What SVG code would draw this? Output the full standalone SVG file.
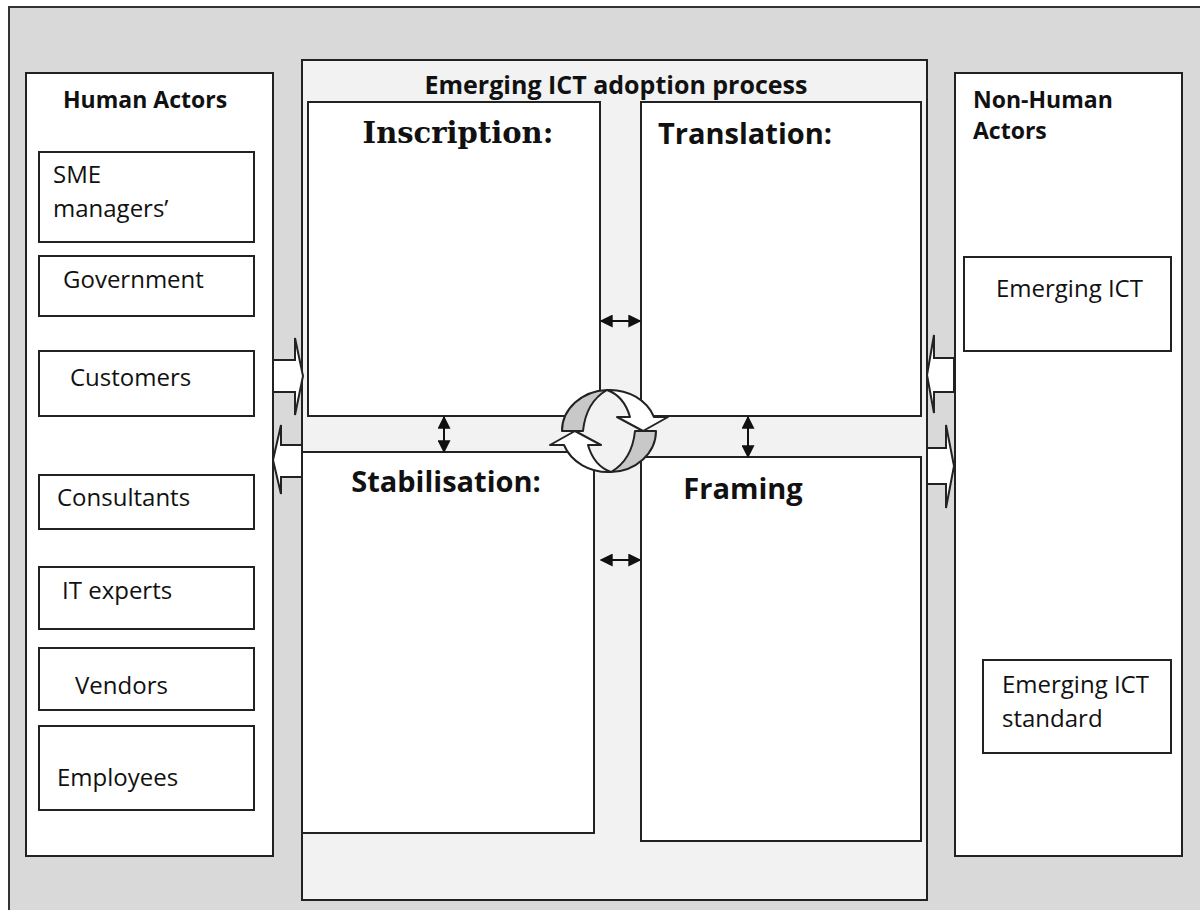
<svg xmlns="http://www.w3.org/2000/svg" width="1200" height="910" viewBox="0 0 1200 910">
<defs>
<style>
.box{fill:#fff;stroke:#222;stroke-width:2}
.panel{fill:#f2f2f2;stroke:#222;stroke-width:2}
.blk{fill:#fff;stroke:#222;stroke-width:2;stroke-linejoin:miter}
.lbl{font-family:"Open Sans","Liberation Sans",sans-serif;font-size:24px;fill:#111}
.hd{font-family:"Open Sans","Liberation Sans",sans-serif;font-size:23px;font-weight:bold;fill:#111}
.ttl{font-family:"Open Sans","Liberation Sans",sans-serif;font-size:25px;font-weight:bold;fill:#111}
.st{font-family:"Open Sans","Liberation Sans",sans-serif;font-size:29px;font-weight:bold;fill:#111}
.sr{font-family:"DejaVu Serif","Liberation Serif",serif;font-size:29px;font-weight:bold;fill:#111}
.dbl{stroke:#111;stroke-width:2;fill:none;marker-start:url(#ah);marker-end:url(#ah)}
.gray{fill:#c8c8c8;stroke:#222;stroke-width:2;stroke-linejoin:round}
.wht{fill:#fff;stroke:#222;stroke-width:2;stroke-linejoin:round}
</style>
<marker id="ah" viewBox="0 0 10 10" refX="9" refY="5" markerWidth="13" markerHeight="13" markerUnits="userSpaceOnUse" orient="auto-start-reverse">
<path d="M0,0 L10,5 L0,10 Z" fill="#111"/>
</marker>
</defs>
<rect x="9" y="7" width="1200" height="910" fill="#d9d9d9" stroke="#333" stroke-width="2"/>

<g id="human-actors">
<rect class="box" x="26" y="73" width="247" height="783"/>
<text class="hd" x="63" y="108">Human Actors</text>
</g>
<g id="sme-managers">
<rect class="box" x="39" y="152" width="215" height="90"/>
<text class="lbl" x="53" y="183">SME</text>
<text class="lbl" x="53" y="217">managers’</text>
</g>
<g id="government">
<rect class="box" x="39" y="256" width="215" height="60"/>
<text class="lbl" x="63" y="288">Government</text>
</g>
<g id="customers">
<rect class="box" x="39" y="351" width="215" height="65"/>
<text class="lbl" x="70" y="386">Customers</text>
</g>
<g id="consultants">
<rect class="box" x="39" y="475" width="215" height="54"/>
<text class="lbl" x="57" y="506">Consultants</text>
</g>
<g id="it-experts">
<rect class="box" x="39" y="567" width="215" height="62"/>
<text class="lbl" x="62" y="599">IT experts</text>
</g>
<g id="vendors">
<rect class="box" x="39" y="648" width="215" height="62"/>
<text class="lbl" x="75" y="694">Vendors</text>
</g>
<g id="employees">
<rect class="box" x="39" y="726" width="215" height="84"/>
<text class="lbl" x="57" y="786">Employees</text>
</g>

<g id="adoption-process">
<rect class="panel" x="302" y="60" width="625" height="840"/>
<text class="ttl" x="616" y="94" text-anchor="middle">Emerging ICT adoption process</text>
</g>
<g id="inscription">
<rect class="box" x="308" y="102" width="292" height="314"/>
<text class="sr" x="458" y="143" text-anchor="middle">Inscription:</text>
</g>
<g id="translation">
<rect class="box" x="641" y="102" width="280" height="314"/>
<text class="st" x="745" y="144" text-anchor="middle">Translation:</text>
</g>
<g id="stabilisation">
<rect class="box" x="302" y="452" width="292" height="381"/>
<text class="st" x="446" y="492" text-anchor="middle">Stabilisation:</text>
</g>
<g id="framing">
<rect class="box" x="641" y="457" width="280" height="384"/>
<text class="st" x="743" y="499" text-anchor="middle">Framing</text>
</g>

<g id="non-human-actors">
<rect class="box" x="955" y="73" width="227" height="783"/>
<text class="hd" x="973" y="108">Non-Human</text>
<text class="hd" x="973" y="139">Actors</text>
</g>
<g id="emerging-ict">
<rect class="box" x="964" y="257" width="207" height="94"/>
<text class="lbl" x="996" y="297">Emerging ICT</text>
</g>
<g id="emerging-ict-standard">
<rect class="box" x="983" y="660" width="188" height="93"/>
<text class="lbl" x="1002" y="693">Emerging ICT</text>
<text class="lbl" x="1002" y="727">standard</text>
</g>

<g id="connectors">
<polygon class="blk" points="273,360 295,360 295,338 303,376 295,415 295,392 273,392"/>
<polygon class="blk" points="302,445 281,445 281,425 273,460 281,494 281,477 302,477"/>
<polygon class="blk" points="954,358 934,358 934,335 927,375 934,413 934,392 954,392"/>
<polygon class="blk" points="927,448 946,448 946,425 954,466 946,508 946,484 927,484"/>
<line class="dbl" x1="601" y1="321" x2="640" y2="321"/>
<line class="dbl" x1="601" y1="560" x2="640" y2="560"/>
<line class="dbl" x1="444" y1="417" x2="444" y2="452"/>
<line class="dbl" x1="748" y1="417" x2="748" y2="457"/>
<g id="cycle">
<ellipse cx="609" cy="431" rx="46" ry="40" fill="#f2f2f2"/>
<path class="gray" d="M562,431 A47,41 0 0 1 607,390 Q586,402 583,431 Z"/>
<path class="wht" d="M607,390 A47,41 0 0 1 654,417 L668,417 L643,431 L617,417 L630,417 Q624,396 607,390 Z"/>
<path class="gray" d="M656,431 A47,41 0 0 1 611,472 Q632,460 635,431 Z"/>
<path class="wht" d="M611,472 A47,41 0 0 1 564,445 L550,445 L575,431 L601,445 L588,445 Q594,466 611,472 Z"/>
</g>
</g>
</svg>
